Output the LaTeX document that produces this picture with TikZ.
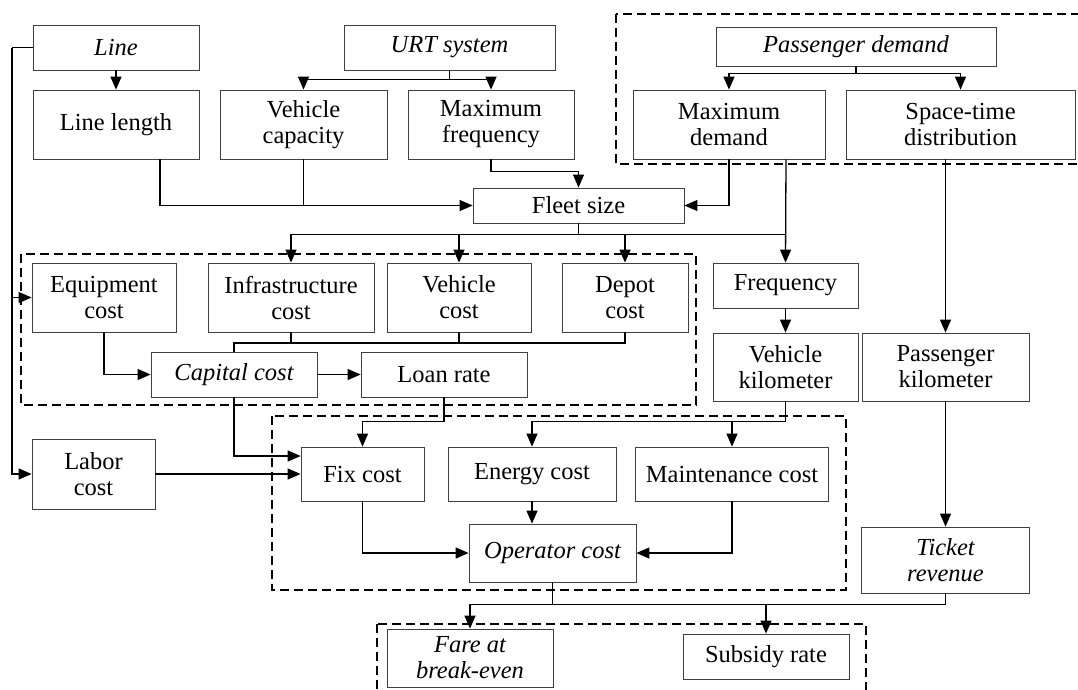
\documentclass[tikz,border=0pt]{standalone}
\usepackage{fontspec}
\setmainfont{Liberation Serif}
\usetikzlibrary{arrows.meta,positioning}
\tikzset{
  box/.style={draw=black!75, line width=0.8pt, fill=white, align=center, inner sep=0pt, font=\fontsize{24.5}{26}\selectfont},
  link/.style={line width=1.3pt},
  arr/.style={link, -{Triangle[length=13pt,width=11pt]}},
  group/.style={line width=1.1pt, dash pattern=on 9pt off 5pt}
}
\begin{document}
\begin{tikzpicture}[x=1pt, y=-1pt]
\useasboundingbox (0,0) rectangle (1078,689);

\draw[group] (616,14) rectangle (1090,164);
\draw[group] (21,254) rectangle (696,405);
\draw[group] (272,416) rectangle (846,590);
\draw[group] (377,624) rectangle (866,700);

\node[box, minimum width=166, minimum height=45] (line) at (116,47.5) {\itshape Line};
\node[box, minimum width=211, minimum height=45] (urt) at (449.5,47.5) {\itshape URT system};
\node[box, minimum width=280, minimum height=39] (pdem) at (856,46.5) {\itshape Passenger demand};

\node[box, minimum width=166, minimum height=69] (llen) at (116,124.5) {Line length};
\node[box, minimum width=167, minimum height=69] (vcap) at (303.5,124.5) {Vehicle\\capacity};
\node[box, minimum width=166, minimum height=69] (mfreq) at (491,124.5) {Maximum\\frequency};
\node[box, minimum width=192, minimum height=69] (mdem) at (729,124.5) {Maximum\\demand};
\node[box, minimum width=229, minimum height=69] (stdist) at (960.5,124.5) {Space-time\\distribution};

\node[box, minimum width=211, minimum height=35] (fleet) at (578.5,205.5) {Fleet size};

\node[box, minimum width=144, minimum height=69] (equip) at (104,297.5) {Equipment\\cost};
\node[box, minimum width=166, minimum height=69] (infra) at (291,297.5) {Infrastructure\\cost};
\node[box, minimum width=144, minimum height=69] (vcost) at (459,297.5) {Vehicle\\cost};
\node[box, minimum width=126, minimum height=69] (depot) at (625,297.5) {Depot\\cost};
\node[box, minimum width=166, minimum height=45] (capital) at (234,374.5) {\itshape Capital cost};
\node[box, minimum width=166, minimum height=45] (loan) at (444,374.5) {Loan rate};

\node[box, minimum width=145, minimum height=45] (freq) at (785.5,285.5) {Frequency};
\node[box, minimum width=145, minimum height=68] (vkm) at (785.5,367) {Vehicle\\kilometer};
\node[box, minimum width=167, minimum height=68] (pkm) at (945.5,367) {Passenger\\kilometer};

\node[box, minimum width=123, minimum height=70] (labor) at (93.5,474) {Labor\\cost};
\node[box, minimum width=123, minimum height=54] (fix) at (362.5,474) {Fix cost};
\node[box, minimum width=168, minimum height=54] (energy) at (532,474) {Energy cost};
\node[box, minimum width=193, minimum height=54] (maint) at (732,474) {Maintenance cost};
\node[box, minimum width=167, minimum height=58] (oper) at (552.5,553) {\itshape Operator cost};
\node[box, minimum width=168, minimum height=66] (ticket) at (945.5,560) {\itshape Ticket\\\itshape revenue};

\node[box, minimum width=166, minimum height=58] (fare) at (470,658) {\itshape Fare at\\\itshape break-even};
\node[box, minimum width=166, minimum height=45] (subsidy) at (766,656.5) {Subsidy rate};

\coordinate (lbus) at (12,47.5);
\draw[link] (line.west) -- (lbus);
\draw[arr] (lbus) |- (equip.west);
\draw[arr] (lbus) |- (labor.west);
\draw[arr] (line) -- (llen);

\draw[link] (urt.south) -- ++(0,9) coordinate (ubus);
\draw[arr] (ubus) -| (vcap.north);
\draw[arr] (ubus) -| (mfreq.north);

\draw[link] (pdem.south) -- ++(0,7) coordinate (pbus);
\draw[arr] (pbus) -| (mdem.north);
\draw[arr] (pbus) -| (stdist.north);

\draw[arr] ([xshift=44pt]llen.south) |- (fleet.west);
\draw[link] (vcap.south) -- (vcap.south |- fleet.west);
\draw[arr] (mfreq.south) -- ++(0,12) -| (fleet.north);
\draw[arr] (mdem.south) |- (fleet.east);
\draw[arr] ([xshift=57pt]mdem.south) -- (freq.north);
\draw[arr] (pkm.north |- stdist.south) -- (pkm.north);

\draw[link] (fleet.south) -- ++(0,11) coordinate (fbus);
\draw[link] (infra.north |- fbus) -- (freq.north |- fbus);
\draw[arr] (infra.north |- fbus) -- (infra.north);
\draw[arr] (vcost.north |- fbus) -- (vcost.north);
\draw[arr] (depot.north |- fbus) -- (depot.north);

\draw[arr] (equip.south) |- (capital.west);
\coordinate (cbus) at (234,343);
\draw[link] (capital.north) -- (capital.north |- cbus) -| (depot.south);
\draw[link] (infra.south) -- (infra.south |- cbus);
\draw[link] (vcost.south) -- (vcost.south |- cbus);
\draw[arr] (capital) -- (loan);

\draw[arr] (freq) -- (vkm);

\draw[arr] (capital.south) |- ([yshift=18pt]fix.west);
\draw[arr] (loan.south) -- ++(0,24) -| (fix.north);
\draw[arr] (labor) -- (fix);

\draw[link] (vkm.south) -- ++(0,20) coordinate (vbus);
\draw[arr] (vbus) -| (energy.north);
\draw[arr] (vbus) -| (maint.north);

\draw[arr] (fix.south) |- (oper.west);
\draw[arr] (energy.south) -- (energy.south |- oper.north);
\draw[arr] (maint.south) |- (oper.east);

\draw[arr] (pkm) -- (ticket);

\draw[link] (oper.south) -- ++(0,22) coordinate (obus);
\draw[link] (ticket.south) |- (fare.north |- obus);
\draw[arr] (fare.north |- obus) -- (fare.north);
\draw[arr] (subsidy.north |- obus) -- (subsidy.north);
\end{tikzpicture}
\end{document}
